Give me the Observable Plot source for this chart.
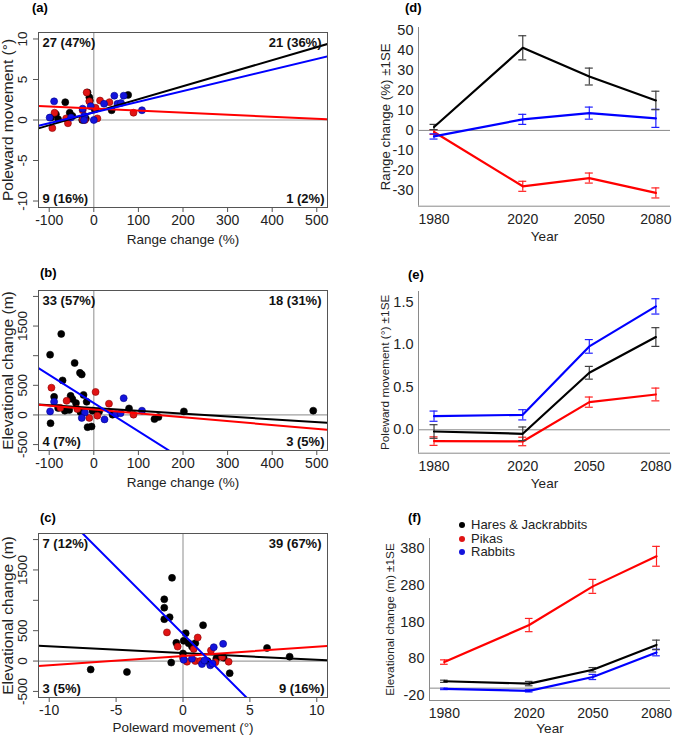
<!DOCTYPE html>
<html><head><meta charset="utf-8">
<script src="https://cdn.jsdelivr.net/npm/d3@7"></script>
<script src="https://cdn.jsdelivr.net/npm/@observablehq/plot@0.6"></script>
<style>
body{margin:0;background:#fff;font-family:"Liberation Sans",Arial,sans-serif;}
#fig{position:relative;width:673px;height:735px;overflow:hidden;background:#fff}
.panel{position:absolute}
.lab{position:absolute;font-weight:bold;font-size:13px;line-height:15px}
.legend{position:absolute;left:459px;top:518px;font-size:13px;line-height:13.7px;color:#222}
.legend div{white-space:nowrap}
.legend span{display:inline-block;width:6px;height:6px;border-radius:3px;margin-right:6px;vertical-align:1px}
</style></head><body><div id="fig"></div>
<script>
const groups = ["Hares & Jackrabbits", "Pikas", "Rabbits"];
const dotFill = ["#000000", "#e01414", "#1414dc"];
const dotStroke = ["#000000", "#8a0000", "#00008a"];
const lineColor = ["#000000", "#ff0000", "#0000ff"];
const errColor = ["#404040", "#ff2020", "#2020ff"];

// Panel (a): range change (%) vs poleward movement (°)
const aHares = [[-96,0.3],[-85,0.7],[-80,0.1],[-64,2.2],[-54,0.9],[-48,0.5],[-14,3.4],[-10,2.8],[-9,2.4],[2,1.3],[40,1.2],[77,3.1],[-26,0],[-18,0.2]];
const aPikas = [[-93,-1.0],[-88,0.9],[-62,0.2],[-58,-0.4],[-25,0.1],[-25,1.2],[-16,3.4],[-10,2.3],[8,0.2],[14,2.4],[35,2.2],[89,0.9],[-20,0],[4,1.5]];
const aRabbits = [[-99,0.3],[-89,2.3],[-51,0.3],[-25,1.4],[-21,0.5],[-22,0],[-7,1.7],[0,0],[23,2.0],[46,3],[53,2],[61,2.1],[67,3],[108,1.2]];
const aFits = [[0.957,0.01609],[1.418,-0.002556],[0.926,0.01322]];
const aQuad = ["27 (47%)","21 (36%)","9 (16%)","1 (2%)"];

// Panel (b): range change (%) vs elevational change (m)
const bHares = [[-73,1367],[-98,1017],[-43,877],[-31,710],[-27,683],[-70,583],[-89,305],[-52,322],[-48,267],[-23,338],[-16,222],[-80,117],[-65,72],[-55,83],[-97,-140],[-14,-206],[-5,-195],[-3,72],[12,60],[42,5],[79,110],[136,-70],[145,-35],[202,60],[492,72],[-40,200],[-30,50]];
const bPikas = [[-95,460],[-61,238],[-37,100],[-10,-50],[4,388],[8,-12],[34,190],[89,5],[-75,120]];
const bRabbits = [[-98,60],[-89,222],[-20,40],[-27,-50],[24,-75],[67,283],[50,17],[108,72],[60,30]];
const bFits = [[116,-0.473],[91.5,-0.651],[200,-4.75]];
const bQuad = ["33 (57%)","18 (31%)","4 (7%)","3 (5%)"];

// Panel (c): poleward movement (°) vs elevational change (m)
const cHares = [[-0.82,1370],[-1.4,1017],[-1.4,878],[-1.0,722],[-1.4,690],[1.5,590],[0.2,458],[0.05,333],[0.42,294],[0.67,238],[0.92,295],[0,125],[-0.88,-25],[-6.9,-139],[-4.19,-180],[3.49,-200],[1.84,0],[2.49,44],[3.04,55],[6.28,215],[7.97,72],[-0.5,300]];
const cPikas = [[-1.2,472],[-0.4,238],[1.1,388],[2.09,175],[0,55],[0.3,-11],[0.92,0],[1.29,0],[2.42,-20],[2.92,67],[3.41,-11],[0.8,200]];
const cRabbits = [[2.3,228],[3.0,283],[0.05,20],[0.67,39],[1.42,-50],[2.04,-70],[2.2,-40],[1.6,10]];
const cFits = [[130.7,-11.05],[83.3,15.4],[446,-220.5]];
const cQuad = ["7 (12%)","39 (67%)","3 (5%)","9 (16%)"];

// Panels (d)-(f): means ± 1 SE by year
const years = [1980, 2020, 2050, 2080];
const dHares = [1.7, 41.1, 26.8, 14.9],   dHaresSE = [1.3, 6.0, 4.2, 4.6];
const dPikas = [-0.8, -27.8, -23.7, -31.1], dPikasSE = [1.2, 2.5, 2.5, 2.5];
const dRabbits = [-3.0, 5.5, 8.6, 6.0],   dRabbitsSE = [1.3, 2.5, 3.0, 4.5];
const eHares = [-0.02, -0.047, 0.67, 1.09], eHaresSE = [0.08, 0.08, 0.075, 0.11];
const ePikas = [-0.133, -0.137, 0.325, 0.415], ePikasSE = [0.05, 0.05, 0.06, 0.075];
const eRabbits = [0.16, 0.176, 0.98, 1.45], eRabbitsSE = [0.06, 0.06, 0.08, 0.09];
const fHares = [18.7, 12.4, 50, 117.6], fHaresSE = [3, 6, 6, 13];
const fPikas = [70.9, 171.6, 276.8, 358.6], fPikasSE = [6, 18, 19, 27];
const fRabbits = [-2, -7.4, 30.4, 96.9], fRabbitsSE = [2, 3, 7, 9];

const font = '"Liberation Sans", Arial, sans-serif';
const fig = document.getElementById("fig");
function place(node, left, top) {
  node.classList.add("panel");
  node.style.left = left + "px"; node.style.top = top + "px";
  fig.appendChild(node);
}
const corners = [["top-left","start","top",4,5],["top-right","end","top",-6,5],["bottom-left","start","bottom",4,-5],["bottom-right","end","bottom",-3,-5]];

function scatter(o) {
  const marks = [
    Plot.ruleX([0], {stroke: "#a0a0a0", strokeWidth: 1.2}),
    Plot.ruleY([0], {stroke: "#a0a0a0", strokeWidth: 1.2})
  ];
  o.series.forEach((s, i) => marks.push(Plot.dot(s, {x: d => d[0], y: d => d[1], r: 3.5, fill: dotFill[i], stroke: dotStroke[i], strokeWidth: 0.6})));
  o.fits.forEach((f, i) => marks.push(Plot.line(o.xDomain.map(x => [x, f[0] + f[1] * x]), {x: d => d[0], y: d => d[1], stroke: lineColor[i], strokeWidth: 2, clip: true})));
  o.quad.forEach((q, i) => {
    const [fa, ta, la, dx, dy] = corners[i];
    marks.push(Plot.text([q], {text: d => d, frameAnchor: fa, textAnchor: ta, lineAnchor: la, dx, dy, fontWeight: "bold", fontSize: 13, fill: "#111"}));
  });
  marks.push(Plot.frame({stroke: "#555", strokeWidth: 1}));
  marks.push(Plot.axisX({ticks: o.xTicks, tickSize: 5, tickPadding: 3, fontSize: 14, tickFormat: d => String(d), label: null, stroke: "#555", fill: "#222"}));
  marks.push(Plot.axisY({ticks: o.yTicks, tickSize: 5, tickFormat: () => "", label: null, stroke: "#555"}));
  marks.push(Plot.text(o.yLabels, {y: d => d, text: d => String(d), frameAnchor: "left", dx: -16, rotate: -90, textAnchor: "middle", lineAnchor: "middle", fontSize: 13.5, fill: "#222"}));
  marks.push(Plot.text([o.yTitle], {text: d => d, frameAnchor: "left", dx: -30, rotate: -90, textAnchor: "middle", lineAnchor: "middle", fontSize: 15.5, fill: "#222"}));
  marks.push(Plot.text([o.xTitle], {text: d => d, frameAnchor: "bottom", dy: o.xTitleDy, textAnchor: "middle", lineAnchor: "middle", fontSize: 13.5, fill: "#222"}));
  const p = Plot.plot({
    width: 335, height: o.height,
    marginLeft: 38, marginRight: 8, marginTop: o.mt, marginBottom: o.mb,
    x: {domain: o.xDomain}, y: {domain: o.yDomain},
    style: {fontFamily: font, background: "transparent"},
    marks
  });
  place(p, 0, o.top);
}

function trend(o) {
  const marks = [
    Plot.ruleY([0], {stroke: "#8a8a8a", strokeWidth: 1}),
    Plot.ruleX([o.xDomain[0]], {stroke: "#8a8a8a", strokeWidth: 1}),
    Plot.ruleY([o.yDomain[0]], {stroke: "#8a8a8a", strokeWidth: 1})
  ];
  const cap = 1.8;
  o.order.forEach(i => {
    const rows = years.map((yr, k) => ({year: yr, v: o.values[i][k], se: o.ses[i][k]}));
    marks.push(Plot.ruleX(rows, {x: "year", y1: d => d.v - d.se, y2: d => d.v + d.se, stroke: errColor[i], strokeWidth: 1.2}));
    marks.push(Plot.ruleY(rows, {y: d => d.v + d.se, x1: d => d.year - cap, x2: d => d.year + cap, stroke: errColor[i], strokeWidth: 1.2}));
    marks.push(Plot.ruleY(rows, {y: d => d.v - d.se, x1: d => d.year - cap, x2: d => d.year + cap, stroke: errColor[i], strokeWidth: 1.2}));
    marks.push(Plot.line(rows, {x: "year", y: "v", stroke: lineColor[i], strokeWidth: 2.2}));
  });
  marks.push(Plot.axisY({ticks: o.yTicks, tickSize: 0, tickPadding: 5, tickFormat: o.yFormat, label: null, fontSize: 14.5, fill: "#222"}));
  marks.push(Plot.axisX({ticks: years, tickSize: 0, tickPadding: 8, tickFormat: d => String(d), label: null, fontSize: 14, fill: "#222"}));
  marks.push(Plot.text([o.yTitle], {text: d => d, frameAnchor: "left", dx: -o.yTitleDx, rotate: -90, textAnchor: "middle", lineAnchor: "middle", fontSize: o.yTitleSize, fill: "#222"}));
  marks.push(Plot.text(["Year"], {text: d => d, frameAnchor: "bottom", dy: o.xTitleDy, textAnchor: "middle", lineAnchor: "middle", fontSize: 13.5, fill: "#222"}));
  const p = Plot.plot({
    width: 333, height: o.height,
    marginLeft: o.ml, marginRight: 3, marginTop: o.mt, marginBottom: o.mb,
    x: {domain: o.xDomain}, y: {domain: o.yDomain},
    style: {fontFamily: font, background: "transparent"},
    marks
  });
  place(p, 340, o.top);
}

scatter({top: 0, height: 250, mt: 32, mb: 43, xDomain: [-124, 524], yDomain: [-10.8, 10.8],
  xTicks: [-100, 0, 100, 200, 300, 400, 500], yTicks: [-10, -5, 0, 5, 10], yLabels: [-10, -5, 0, 5, 10],
  series: [aHares, aPikas, aRabbits], fits: aFits, quad: aQuad,
  yTitle: "Poleward movement (°)", xTitle: "Range change (%)", xTitleDy: 32});
scatter({top: 250, height: 245, mt: 40, mb: 45, xDomain: [-124, 524], yDomain: [-600, 2100],
  xTicks: [-100, 0, 100, 200, 300, 400, 500], yTicks: [-500, 0, 500, 1000, 1500, 2000], yLabels: [-500, 0, 500, 1500],
  series: [bHares, bPikas, bRabbits], fits: bFits, quad: bQuad,
  yTitle: "Elevational change (m)", xTitle: "Range change (%)", xTitleDy: 32});
scatter({top: 495, height: 240, mt: 38, mb: 38, xDomain: [-10.8, 10.8], yDomain: [-600, 2100],
  xTicks: [-10, -5, 0, 5, 10], yTicks: [-500, 0, 500, 1000, 1500, 2000], yLabels: [-500, 0, 500, 1500],
  series: [cHares, cPikas, cRabbits], fits: cFits, quad: cQuad,
  yTitle: "Elevational change (m)", xTitle: "Poleward movement (°)", xTitleDy: 30});

trend({top: 0, height: 248, ml: 78, mt: 27, mb: 42.3, xDomain: [1973, 2086.6], yDomain: [-37.7, 51.2],
  yTicks: [-30, -20, -10, 0, 10, 20, 30, 40, 50], yFormat: d => String(d),
  values: [dHares, dPikas, dRabbits], ses: [dHaresSE, dPikasSE, dRabbitsSE], order: [1, 2, 0],
  yTitle: "Range change (%) ±1SE", yTitleDx: 33, yTitleSize: 13.3, xTitleDy: 30});
trend({top: 248, height: 252, ml: 78, mt: 43, mb: 47.3, xDomain: [1973, 2086.6], yDomain: [-0.275, 1.625],
  yTicks: [0, 0.5, 1, 1.5], yFormat: d => d.toFixed(1),
  values: [eHares, ePikas, eRabbits], ses: [eHaresSE, ePikasSE, eRabbitsSE], order: [1, 2, 0],
  yTitle: "Poleward movement (°) ±1SE", yTitleDx: 33, yTitleSize: 11.8, xTitleDy: 30});
trend({top: 500, height: 235, ml: 89, mt: 38, mb: 35, xDomain: [1973, 2086.6], yDomain: [-33.6, 407],
  yTicks: [-20, 80, 180, 280, 380], yFormat: d => String(d),
  values: [fHares, fPikas, fRabbits], ses: [fHaresSE, fPikasSE, fRabbitsSE], order: [2, 0, 1],
  yTitle: "Elevational change (m) ±1SE", yTitleDx: 39, yTitleSize: 11.8, xTitleDy: 28});

// panel letters
[["(a)", 32, 0], ["(b)", 40, 264.5], ["(c)", 40, 509.5], ["(d)", 405, 0], ["(e)", 408, 266.5], ["(f)", 408, 509.5]].forEach(([t, x, y]) => {
  const d = document.createElement("div"); d.className = "lab"; d.textContent = t;
  d.style.left = x + "px"; d.style.top = y + "px"; fig.appendChild(d);
});
// legend
const lg = document.createElement("div"); lg.className = "legend";
groups.forEach((g, i) => {
  const row = document.createElement("div");
  const sw = document.createElement("span"); sw.style.background = dotFill[i];
  row.appendChild(sw); row.appendChild(document.createTextNode(g)); lg.appendChild(row);
});
fig.appendChild(lg);
</script></body></html>
